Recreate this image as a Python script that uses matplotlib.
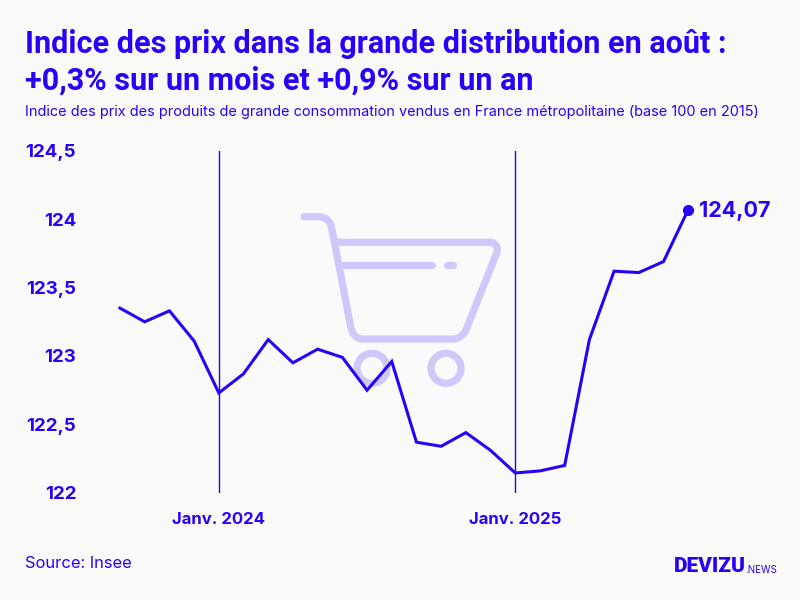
import matplotlib.pyplot as plt
from matplotlib.path import Path
from matplotlib.patches import Circle, PathPatch

BLUE = '#2b00f7'
CART = '#cfc8fb'
BG = '#fafafa'

months = list(range(24))
values = [123.35, 123.25, 123.33, 123.11, 122.73, 122.87, 123.12, 122.95,
          123.05, 122.99, 122.75, 122.96, 122.37, 122.34, 122.44, 122.31,
          122.145, 122.16, 122.20, 123.12, 123.62, 123.61, 123.69, 124.07]
y_ticks = [122, 122.5, 123, 123.5, 124, 124.5]
y_labels = ['122', '122,5', '123', '123,5', '124', '124,5']
jan_months = [4, 16]
jan_labels = ['Janv. 2024', 'Janv. 2025']

plt.rcParams['font.family'] = ['Inter', 'DejaVu Sans']

fig = plt.figure(figsize=(8, 6), dpi=100, facecolor=BG)

# overlay in pixel coordinates for the cart picture
bg = fig.add_axes([0, 0, 1, 1], zorder=0)
bg.set_xlim(0, 800)
bg.set_ylim(600, 0)
bg.axis('off')

cart = Path(
    [(304, 216.7), (318, 216.7), (326, 216.7), (330, 221), (331.7, 228),
     (350.7, 326.7), (352.5, 334), (356, 339), (363, 339),
     (453, 339), (459, 339), (464.5, 335), (466.7, 328),
     (496.7, 253), (499, 247), (495, 242.3), (490, 242.3),
     (336.7, 242.3)],
    [Path.MOVETO, Path.LINETO, Path.CURVE4, Path.CURVE4, Path.CURVE4,
     Path.LINETO, Path.CURVE4, Path.CURVE4, Path.CURVE4,
     Path.LINETO, Path.CURVE4, Path.CURVE4, Path.CURVE4,
     Path.LINETO, Path.CURVE4, Path.CURVE4, Path.CURVE4,
     Path.LINETO])
bg.add_patch(PathPatch(cart, fill=False, edgecolor=CART, lw=5.2, capstyle='round', joinstyle='round'))
bg.plot([340, 431.7], [264.7, 264.7], color=CART, lw=5.2, solid_capstyle='round')
bg.plot([447.3, 453.3], [264.7, 264.7], color=CART, lw=5.2, solid_capstyle='round')
bg.add_patch(Circle((372, 368.3), 15, fill=False, edgecolor=CART, lw=5.2))
bg.add_patch(Circle((446, 368.3), 15, fill=False, edgecolor=CART, lw=5.2))

# chart axes, 120-688 px wide and 151-493 px tall
ax = fig.add_axes([120 / 800, 107.2 / 600, 568.2 / 800, 342 / 600], zorder=1)
ax.patch.set_alpha(0)
ax.set_xlim(0, 23)
ax.set_ylim(122, 124.5)
for side in ax.spines.values():
    side.set_visible(False)

for m in jan_months:
    ax.axvline(m, color=BLUE, lw=1.0, zorder=1)

ax.plot(months, values, color=BLUE, lw=2.2, solid_joinstyle='miter', clip_on=False, zorder=3)
ax.plot(months[-1], values[-1], 'o', color=BLUE, ms=7, clip_on=False, zorder=4)
ax.annotate('124,07', (months[-1], values[-1]), xytext=(8, -1), textcoords='offset points',
            color=BLUE, fontsize=15.5, fontweight='bold', va='center', ha='left')

ax.set_yticks(y_ticks, y_labels, color=BLUE, fontsize=13.5, fontweight='bold')
ax.set_xticks(jan_months, jan_labels, color=BLUE, fontsize=12, fontweight='bold')
ax.tick_params(axis='y', length=0, pad=31.5)
ax.tick_params(axis='x', length=0, pad=14)

fig.text(25 / 800, 1 - 44 / 600, 'Indice des prix dans la grande distribution en août :',
         color=BLUE, fontsize=22, fontweight='bold', family=['Roboto', 'DejaVu Sans'], va='center')
fig.text(25 / 800, 1 - 81 / 600, '+0,3% sur un mois et +0,9% sur un an',
         color=BLUE, fontsize=22, fontweight='bold', family=['Roboto', 'DejaVu Sans'], va='center')
fig.text(25 / 800, 1 - 112 / 600,
         'Indice des prix des produits de grande consommation vendus en France métropolitaine (base 100 en 2015)',
         color=BLUE, fontsize=10.45, va='center')
fig.text(25 / 800, 1 - 563 / 600, 'Source: Insee', color=BLUE, fontsize=11.9, va='center')
fig.text(674 / 800, 1 - 566 / 600, 'DEVIZU', color=BLUE, fontsize=15, fontweight='black',
         family=['Roboto', 'DejaVu Sans'], va='center')
fig.text(745 / 800, 1 - 570 / 600, '.NEWS', color=BLUE, fontsize=7, va='center')

fig.savefig('out.png', dpi=100, facecolor=BG)
